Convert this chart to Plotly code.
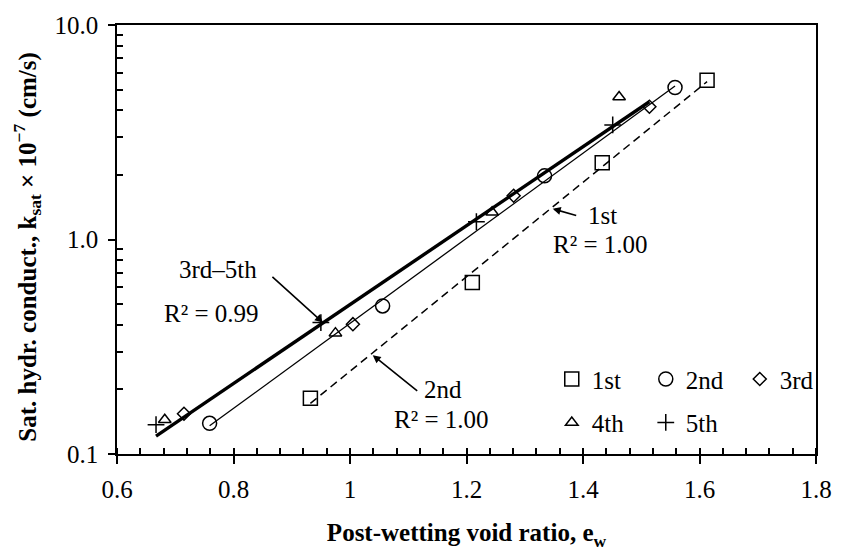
import numpy as np
import plotly.graph_objects as go

# Post-wetting void ratio (e_w) and saturated hydraulic conductivity (x 1e-7 cm/s)
e_1st = [0.932, 1.210, 1.433, 1.613]
k_1st = [0.182, 0.630, 2.28, 5.52]

e_2nd = [0.759, 1.056, 1.334, 1.558]
k_2nd = [0.139, 0.490, 1.98, 5.11]

e_3rd = [0.715, 1.005, 1.281, 1.514]
k_3rd = [0.154, 0.403, 1.60, 4.16]

e_4th = [0.682, 0.975, 1.244, 1.462]
k_4th = [0.1445, 0.366, 1.34, 4.62]

e_5th = [0.667, 0.950, 1.217, 1.451]
k_5th = [0.137, 0.410, 1.21, 3.42]

series_names = ["1st", "2nd", "3rd", "4th", "5th"]
y_tick_vals = [0.1, 1, 10]
y_tick_text = ["0.1", "1.0", "10.0"]

FONT = "Liberation Serif, Times New Roman, serif"
FS = 25


def exp_trend(xs, ys):
    """Exponential trend line (straight on the log axis) spanning the data range."""
    xs = np.asarray(xs, float)
    ys = np.asarray(ys, float)
    b, a = np.polyfit(xs, np.log(ys), 1)
    xf = np.array([xs.min(), xs.max()])
    return xf, np.exp(a + b * xf)


fig = go.Figure()

# trend lines
x1, y1 = exp_trend(e_1st, k_1st)
fig.add_trace(go.Scatter(x=x1, y=y1, mode="lines", showlegend=False,
                         line=dict(color="black", width=1.5, dash="8px,5px")))
x2, y2 = exp_trend(e_2nd, k_2nd)
fig.add_trace(go.Scatter(x=x2, y=y2, mode="lines", showlegend=False,
                         line=dict(color="black", width=1.3)))
x35, y35 = exp_trend(e_3rd + e_4th + e_5th, k_3rd + k_4th + k_5th)
fig.add_trace(go.Scatter(x=x35, y=y35, mode="lines", showlegend=False,
                         line=dict(color="black", width=3.4)))

# measured points
marker_specs = [
    (e_1st, k_1st, "square-open", 14, "legend"),
    (e_2nd, k_2nd, "circle-open", 14, "legend"),
    (e_3rd, k_3rd, "diamond-open", 10, "legend"),
    (e_4th, k_4th, "triangle-up-open", 11, "legend2"),
    (e_5th, k_5th, "cross-thin-open", 12, "legend2"),
]
for name, (xs, ys, sym, sz, lg) in zip(series_names, marker_specs):
    fig.add_trace(go.Scatter(
        x=xs, y=ys, mode="markers", name=name, legend=lg,
        marker=dict(symbol=sym, size=sz, color="black",
                    line=dict(color="black", width=1.5)),
    ))

# labels and arrows
arrow = dict(showarrow=True, arrowhead=2, arrowsize=1, arrowwidth=1.6,
             arrowcolor="black", axref="pixel", ayref="pixel")
text_font = dict(family=FONT, size=FS, color="black")
fig.add_annotation(x=0.9535, y=np.log10(0.41), ax=-52, ay=-47, text="", **arrow)
fig.add_annotation(x=1.348, y=np.log10(1.39), ax=25, ay=7, text="", **arrow)
fig.add_annotation(x=1.039, y=np.log10(0.289), ax=46, ay=37, text="", **arrow)

labels = [
    (0.7736, -0.138, "3rd–5th", "center"),
    (0.7617, -0.3456, "R² = 0.99", "center"),
    (1.4046, 0.1106, "1st", "left"),
    (1.4306, -0.023, "R² = 1.00", "center"),
    (1.160, -0.700, "2nd", "center"),
    (1.1566, -0.839, "R² = 1.00", "center"),
]
for lx, ly, txt, anc in labels:
    fig.add_annotation(x=lx, y=ly, text=txt, showarrow=False, xanchor=anc,
                       yanchor="middle", font=text_font)

# vertical axis title
fig.add_annotation(
    xref="paper", yref="paper", x=-0.128, y=0.482, xanchor="center", yanchor="middle",
    textangle=-90, showarrow=False, font=text_font,
    text="<b>Sat. hydr. conduct., k<sub>sat</sub> × 10<sup>−7</sup> (cm/s)</b>",
)

legend_common = dict(orientation="h", xanchor="left", yanchor="middle",
                     bgcolor="rgba(0,0,0,0)", borderwidth=0,
                     entrywidth=49, entrywidthmode="pixels",
                     font=dict(family=FONT, size=FS, color="black"))

fig.update_layout(
    width=846, height=555,
    margin=dict(l=117, r=21, t=18, b=101),
    paper_bgcolor="white", plot_bgcolor="white",
    font=dict(family=FONT, size=FS, color="black"),
    legend=dict(x=0.622, y=0.1743, **legend_common),
    legend2=dict(x=0.622, y=0.073, **legend_common),
    xaxis=dict(
        range=[0.6, 1.8], dtick=0.2, tick0=0.6,
        showgrid=False, zeroline=False,
        showline=True, linecolor="black", linewidth=1.5, mirror=True,
        ticks="outside", ticklen=8, tickwidth=1.5, tickcolor="black",
        ticklabelstandoff=4,
        minor=dict(dtick=0.04, tick0=0.6, ticks="inside", ticklen=6,
                   tickwidth=1.5, tickcolor="black", showgrid=False),
        title=dict(text="<b>Post-wetting void ratio, e<sub>w</sub></b>",
                   font=dict(family=FONT, size=FS), standoff=22),
    ),
    yaxis=dict(
        type="log", range=[-1, 1],
        tickmode="array", tickvals=y_tick_vals, ticktext=y_tick_text,
        showgrid=False, zeroline=False,
        showline=True, linecolor="black", linewidth=1.5, mirror=True,
        ticks="outside", ticklen=7, tickwidth=1.5, tickcolor="black",
        ticklabelstandoff=5,
        minor=dict(tickmode="array",
                   tickvals=[m * d for d in (0.1, 1) for m in range(2, 10)],
                   ticks="inside", ticklen=6, tickwidth=1.5,
                   tickcolor="black", showgrid=False),
    ),
)

fig.write_html("out.html")
